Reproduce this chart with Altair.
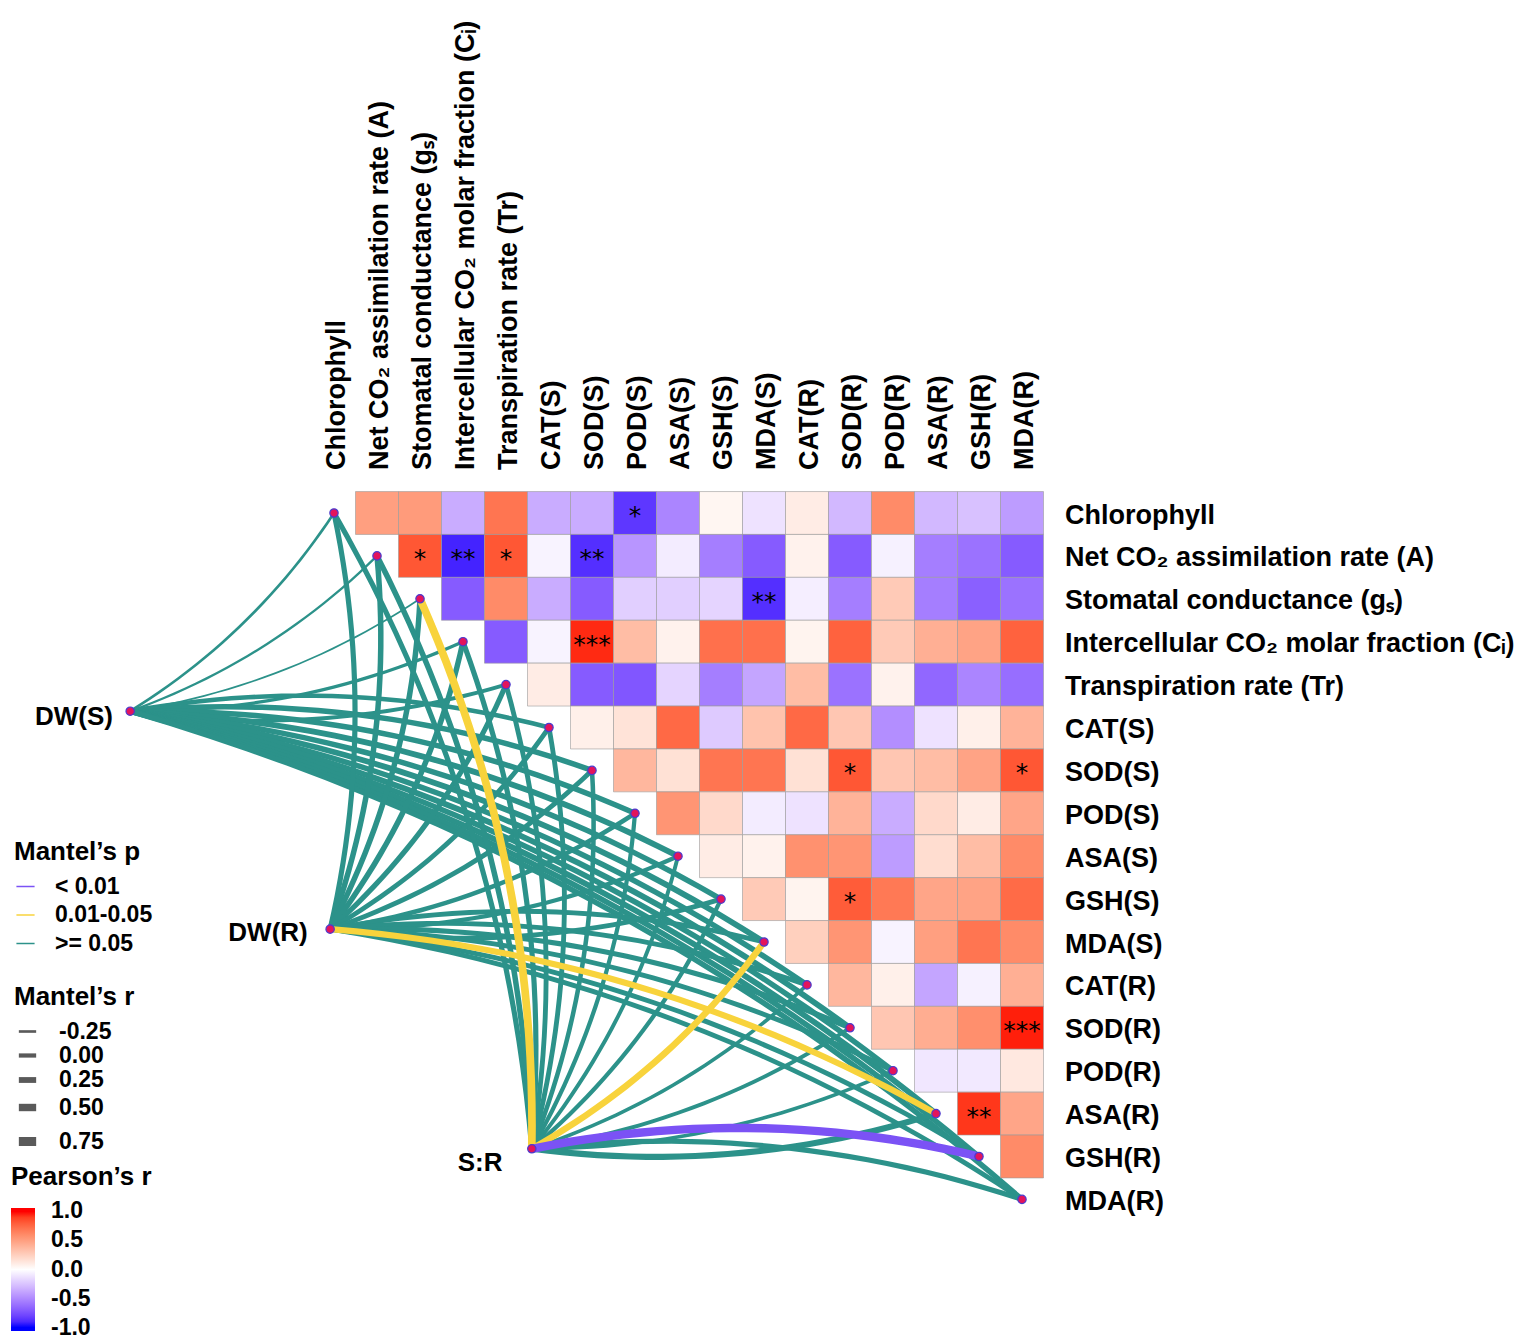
import altair as alt
import pandas as pd

# ---------------- data ----------------
variables = [
    "Chlorophyll", "Net CO\u2082 assimilation rate (A)", "Stomatal conductance (g\u209b)",
    "Intercellular CO\u2082 molar fraction (C\u1d62)", "Transpiration rate (Tr)",
    "CAT(S)", "SOD(S)", "POD(S)", "ASA(S)", "GSH(S)", "MDA(S)",
    "CAT(R)", "SOD(R)", "POD(R)", "ASA(R)", "GSH(R)", "MDA(R)",
]

# Pearson's r, upper triangle: row i holds columns i+1 .. 16
r_row0 = [0.50, 0.52, -0.35, 0.70, -0.35, -0.35, -0.85, -0.52, 0.05, -0.12, 0.10, -0.30, 0.60, -0.30, -0.26, -0.42]
r_row1 = [0.82, -0.92, 0.82, -0.05, -0.88, -0.45, -0.08, -0.55, -0.70, 0.07, -0.70, -0.06, -0.55, -0.60, -0.70]
r_row2 = [-0.70, 0.60, -0.35, -0.70, -0.20, -0.20, -0.18, -0.88, -0.07, -0.55, 0.28, -0.55, -0.68, -0.60]
r_row3 = [-0.70, -0.05, 0.95, 0.35, 0.07, 0.72, 0.72, 0.06, 0.78, 0.28, 0.42, 0.48, 0.78]
r_row4 = [0.10, -0.70, -0.72, -0.18, -0.55, -0.38, 0.35, -0.60, 0.07, -0.65, -0.52, -0.62]
r_row5 = [0.08, 0.15, 0.75, -0.22, 0.32, 0.75, 0.30, -0.48, -0.12, 0.08, 0.40]
r_row6 = [0.38, 0.16, 0.70, 0.70, 0.16, 0.82, 0.30, 0.35, 0.48, 0.82]
r_row7 = [0.55, 0.20, -0.08, -0.12, 0.40, -0.35, 0.20, 0.10, 0.47]
r_row8 = [0.10, 0.07, 0.57, 0.55, -0.42, 0.18, 0.35, 0.60]
r_row9 = [0.28, 0.06, 0.80, 0.68, 0.47, 0.48, 0.74]
r_row10 = [0.25, 0.55, -0.05, 0.50, 0.70, 0.60]
r_row11 = [0.38, 0.08, -0.38, -0.06, 0.42]
r_row12 = [0.30, 0.43, 0.58, 0.97]
r_row13 = [-0.10, -0.09, 0.12]
r_row14 = [0.92, 0.47]
r_row15 = [0.60]
pearson_rows = [r_row0, r_row1, r_row2, r_row3, r_row4, r_row5, r_row6, r_row7,
                r_row8, r_row9, r_row10, r_row11, r_row12, r_row13, r_row14, r_row15]

# significance stars (row, column, label)
star_row = [0, 1, 1, 1, 1, 2, 3, 6, 6, 9, 12, 14]
star_col = [7, 2, 3, 4, 6, 10, 6, 12, 16, 12, 16, 15]
star_txt = ["*", "*", "**", "*", "**", "**", "***", "*", "*", "*", "***", "**"]

# Mantel test sources and their anchor positions (grid units)
sources = ["DW(S)", "DW(R)", "S:R"]
source_x = [-4.74, -0.09, 4.60]
source_y = [4.62, 9.70, 14.82]
label_dx = [-0.40, -0.52, -0.68]
label_dy = [0.14, 0.09, 0.33]

mantel_r_dws = [-0.25, -0.30, -0.40, -0.15, -0.05, 0.05, 0.20, 0.20, 0.25, 0.20, 0.25, 0.20, 0.25, 0.20, 0.25, 0.20, 0.20]
mantel_r_dwr = [0.15, 0.20, 0.20, 0.20, 0.15, 0.10, 0.10, 0.05, 0.00, 0.10, 0.10, 0.10, 0.15, 0.10, 0.30, 0.10, 0.10]
mantel_r_sr = [0.15, 0.20, 0.55, 0.15, 0.10, 0.10, 0.05, 0.00, -0.05, 0.00, 0.35, -0.10, -0.05, -0.10, 0.30, 0.65, 0.15]
mantel_r = [mantel_r_dws, mantel_r_dwr, mantel_r_sr]

p_labels = ["< 0.01", "0.01-0.05", ">= 0.05"]
p_colors = ["#7B52F5", "#F8D33C", "#2C928A"]
mantel_p_dws = [">= 0.05"] * 17
mantel_p_dwr = [">= 0.05"] * 14 + ["0.01-0.05"] + [">= 0.05"] * 2
mantel_p_sr = ([">= 0.05"] * 2 + ["0.01-0.05"] + [">= 0.05"] * 7 + ["0.01-0.05"]
               + [">= 0.05"] * 4 + ["< 0.01"] + [">= 0.05"])
mantel_p = [mantel_p_dws, mantel_p_dwr, mantel_p_sr]

# ---------------- tables ----------------
n = len(variables)
cells = []
for i, row in enumerate(pearson_rows):
    for k, v in enumerate(row):
        j = i + 1 + k
        cells.append({"row": i, "col": j, "x1": j - 0.5, "x2": j + 0.5,
                      "y1": i - 0.5, "y2": i + 0.5, "r": v})
cells_df = pd.DataFrame(cells)

stars_df = pd.DataFrame({"row": star_row, "col": star_col, "txt": star_txt})

nodes_df = pd.DataFrame({"x": list(range(n)) + source_x,
                         "y": list(range(n)) + source_y})

links = []
lid = 0
for s, name in enumerate(sources):
    for t in range(n):
        links.append({"id": lid, "src": name, "sx": source_x[s], "sy": source_y[s],
                      "tx": float(t), "ty": float(t),
                      "mr": mantel_r[s][t], "mp": mantel_p[s][t]})
        lid += 1
links_df = pd.DataFrame(links)

col_lab_df = pd.DataFrame({"name": variables, "x": [j + 0.08 for j in range(n)], "y": [-1.0] * n})
row_lab_df = pd.DataFrame({"name": variables, "x": [17.0] * n, "y": [i + 0.06 for i in range(n)]})
src_lab_df = pd.DataFrame({"name": sources,
                           "x": [a + b for a, b in zip(source_x, label_dx)],
                           "y": [a + b for a, b in zip(source_y, label_dy)]})

# ---------------- scales ----------------
W, H = 1515, 1334
PX, PY = 43.0, 42.9
X0 = -326.0 / PX
Y0 = -505.0 / PY
XS = alt.Scale(domain=[X0, X0 + W / PX], nice=False, zero=False)
YS = alt.Scale(domain=[Y0, Y0 + H / PY], nice=False, zero=False, reverse=True)
FONT = "Liberation Sans"
K = 0.11
MINUS_FIX = "datum.value < 0 ? '-' + format(-datum.value, '{f}') : format(datum.value, '{f}')"

def X(f):
    return alt.X(f, type="quantitative", scale=XS, axis=None)

def Y(f):
    return alt.Y(f, type="quantitative", scale=YS, axis=None)

color_enc = alt.Color(
    "mp:N",
    scale=alt.Scale(domain=p_labels, range=p_colors),
    legend=alt.Legend(
        title="Mantel\u2019s p", orient="none", legendX=6, legendY=831,
        symbolType="stroke", symbolSize=330, symbolStrokeWidth=1.5,
        labelOffset=18, rowPadding=4.5, titlePadding=10, padding=0,
    ),
)
width_enc = alt.StrokeWidth(
    "mr:Q",
    scale=alt.Scale(domain=[-0.4, 0.8], range=[1.7, 9.3], zero=False, nice=False),
    legend=alt.Legend(
        title="Mantel\u2019s r", orient="none", legendX=6, legendY=976,
        values=[-0.25, 0.0, 0.25, 0.5, 0.75],
        labelExpr=MINUS_FIX.format(f=".2f"),
        symbolType="stroke", symbolSize=300, symbolStrokeColor="#5a5a5a",
        labelOffset=18, rowPadding=0, titlePadding=10, padding=0,
    ),
)

def link_layer(flt):
    return (
        alt.Chart(links_df)
        .transform_filter(flt)
        .transform_calculate(tt="sequence(0, 1.0001, 0.04)")
        .transform_flatten(["tt"])
        .transform_calculate(ddx="datum.tx - datum.sx")
        .transform_calculate(ddy="datum.ty - datum.sy")
        .transform_calculate(cx=f"(datum.sx + datum.tx) / 2 + {K} * abs(datum.ddy)")
        .transform_calculate(
            cy=f"(datum.sy + datum.ty) / 2 - {K} * (datum.ddy > 0 ? 1 : (datum.ddy < 0 ? -1 : 0)) * datum.ddx")
        .transform_calculate(
            px="(1 - datum.tt) * (1 - datum.tt) * datum.sx + 2 * datum.tt * (1 - datum.tt) * datum.cx + datum.tt * datum.tt * datum.tx")
        .transform_calculate(
            py="(1 - datum.tt) * (1 - datum.tt) * datum.sy + 2 * datum.tt * (1 - datum.tt) * datum.cy + datum.tt * datum.tt * datum.ty")
        .mark_line(strokeCap="butt")
        .encode(
            x=X("px"), y=Y("py"),
            detail="id:N",
            order=alt.Order("tt:Q"),
            color=color_enc,
            strokeWidth=width_enc,
        )
    )

links_base = link_layer("datum.mp == '>= 0.05'")
links_top = link_layer("datum.mp != '>= 0.05'")

heat = (
    alt.Chart(cells_df)
    .mark_rect(stroke="#9a9a9a", strokeWidth=0.6)
    .encode(
        x=X("x1"), x2="x2:Q", y=Y("y1"), y2="y2:Q",
        fill=alt.Fill(
            "r:Q",
            scale=alt.Scale(domain=[-1.06, -1, 0, 1, 1.06],
                            range=["#0000FF", "#0000FF", "#FFFFFF", "#FF0000", "#FF0000"],
                            interpolate="lab"),
            legend=alt.Legend(
                title="Pearson\u2019s r", orient="none", legendX=3, legendY=1156,
                direction="vertical", gradientLength=123, gradientThickness=24,
                values=[1, 0.5, 0, -0.5, -1], labelOverlap=False,
                labelExpr=MINUS_FIX.format(f=".1f"),
                labelOffset=16, titlePadding=18, padding=0, gradientStrokeWidth=0,
            ),
        ),
    )
)

star_layer = (
    alt.Chart(stars_df)
    .mark_text(font="DejaVu Sans", fontSize=25, color="black", baseline="alphabetic", dy=11)
    .encode(x=X("col"), y=Y("row"), text="txt:N")
)

nodes = (
    alt.Chart(nodes_df)
    .mark_circle(size=70, color="#E3145C", stroke="#4A3BCF", strokeWidth=1.2, opacity=1)
    .encode(x=X("x"), y=Y("y"))
)

col_labels = (
    alt.Chart(col_lab_df)
    .mark_text(font=FONT, fontSize=27, fontWeight="bold", color="black",
               angle=270, align="left", baseline="middle")
    .encode(x=X("x"), y=Y("y"), text="name:N")
)
row_labels = (
    alt.Chart(row_lab_df)
    .mark_text(font=FONT, fontSize=27, fontWeight="bold", color="black",
               align="left", baseline="middle")
    .encode(x=X("x"), y=Y("y"), text="name:N")
)
src_labels = (
    alt.Chart(src_lab_df)
    .mark_text(font=FONT, fontSize=26, fontWeight="bold", color="black",
               align="right", baseline="middle")
    .encode(x=X("x"), y=Y("y"), text="name:N")
)

chart = (
    alt.layer(links_base, links_top, heat, star_layer, nodes, col_labels, row_labels, src_labels)
    .properties(width=W, height=H, padding=0,
                autosize=alt.AutoSizeParams(type="none"))
    .configure_view(stroke=None)
    .configure_legend(
        titleFont=FONT, titleFontSize=26, titleFontWeight="bold", titleColor="black",
        labelFont=FONT, labelFontSize=23, labelFontWeight="bold", labelColor="black",
        titleLimit=400, labelLimit=300,
    )
)

chart.save("out.html", embed_options={"renderer": "svg", "actions": False})
